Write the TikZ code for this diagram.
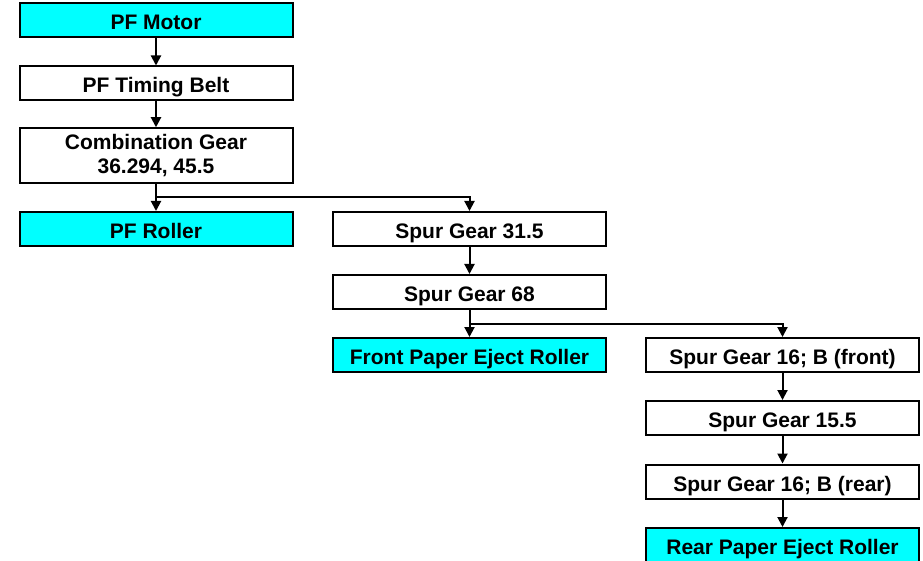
\documentclass[tikz,border=0pt]{standalone}
\usepackage{fontspec}
\setmainfont{Liberation Sans}
\usetikzlibrary{arrows.meta,positioning}
\definecolor{pfcyan}{RGB}{0,255,255}

\begin{document}
\begin{tikzpicture}[
    x=1pt, y=-1pt,
    box/.style={rectangle, draw, line width=2pt, fill=white, minimum width=273pt, minimum height=34pt, inner sep=0pt, text height=21pt, text depth=2pt, align=center, font=\fontsize{21}{23.5}\selectfont\bfseries},
    drivebox/.style={box, fill=pfcyan},
    arrow/.style={-{Triangle[length=10pt,width=10pt]}, line width=2pt}
]
    \useasboundingbox (0,0) rectangle (923,561);

    % Linke Spalte
    \node[drivebox] (motor) at (156,20.5) {PF Motor};
    \node[box] (belt) at (156,83.5) {PF Timing Belt};
    \node[box, minimum height=54.5pt, text height=, text depth=] (combo) at (156,155.5) {Combination Gear\\36.294, 45.5};
    \node[drivebox] (pfroller) at (156,229) {PF Roller};

    % Mittlere Spalte
    \node[box] (spurA) at (469.5,229) {Spur Gear 31.5};
    \node[box] (spurB) at (469.5,292) {Spur Gear 68};
    \node[drivebox] (fronteject) at (469.5,355) {Front Paper Eject Roller};

    % Rechte Spalte
    \node[box] (spurC) at (782.5,355) {Spur Gear 16; B (front)};
    \node[box] (spurD) at (782.5,418) {Spur Gear 15.5};
    \node[box] (spurE) at (782.5,481.5) {Spur Gear 16; B (rear)};
    \node[drivebox] (reareject) at (782.5,545) {Rear Paper Eject Roller};

    % Pfeile
    \draw[arrow] (motor) -- (belt);
    \draw[arrow] (belt) -- (combo);
    \draw[arrow] (combo) -- (pfroller);
    \draw[arrow] (combo.south) -- ++(0,13.5) -| (spurA.north);
    \draw[arrow] (spurA) -- (spurB);
    \draw[arrow] (spurB) -- (fronteject);
    \draw[arrow] (spurB.south) -- ++(0,13.5) -| (spurC.north);
    \draw[arrow] (spurC) -- (spurD);
    \draw[arrow] (spurD) -- (spurE);
    \draw[arrow] (spurE) -- (reareject);
\end{tikzpicture}
\end{document}
